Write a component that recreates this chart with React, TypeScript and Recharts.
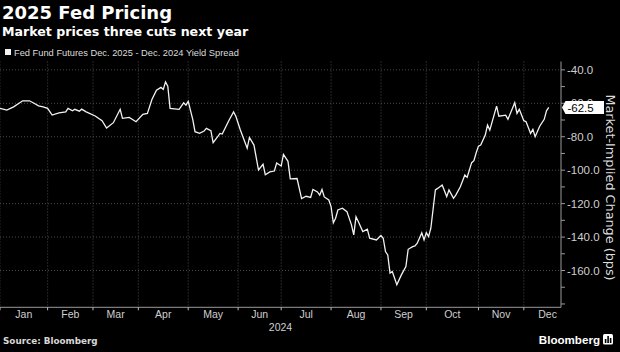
import React from 'react';
import { LineChart, Line, XAxis, YAxis, CartesianGrid, ReferenceLine } from 'recharts';

// Trading-day index in 2024 (0 = first trading day of January)
const tradingDay = [
  0, 3, 6, 10, 13, 15, 17, 19, 21, 23, 26, 29, 30, 32, 33, 35, 36, 38, 42, 45,
  47, 50, 53, 54, 57, 60, 63, 65, 67, 69, 71, 72, 73, 74, 75, 79, 81, 82, 83, 85,
  86, 88, 90, 91, 93, 94, 96, 97, 98, 101, 103, 104, 106, 109, 110, 112, 114, 116, 117, 119,
  121, 122, 124, 125, 127, 128, 131, 133, 135, 137, 138, 140, 141, 142, 143, 145, 146, 147, 148, 149,
  151, 153, 155, 156, 157, 158, 160, 162, 163, 166, 168, 169, 170, 171, 172, 173, 175, 177, 179, 180,
  182, 183, 184, 186, 187, 188, 189, 190, 192, 193, 195, 197, 198, 200, 201, 203, 205, 206, 208, 209,
  210, 211, 212, 214, 215, 216, 219, 220, 223, 224, 227, 228, 229, 231, 232, 234, 235, 236, 238, 240,
  241, 242,
];

// Fed Fund Futures Dec. 2025 - Dec. 2024 yield spread (bps)
const spread = [
  -63.0, -64.1, -62.1, -58.5, -58.5, -60.0, -61.5, -62.1, -63.0, -67.0, -65.7, -65.1, -63.0, -64.5, -63.6, -64.7, -63.5, -65.1, -67.6, -70.4,
  -74.8, -71.6, -63.6, -69.0, -68.4, -71.0, -66.6, -66.0, -57.7, -52.1, -50.5, -51.7, -47.2, -49.7, -63.0, -63.6, -59.7, -61.1, -58.9, -69.6,
  -77.0, -78.0, -76.6, -75.0, -76.4, -83.6, -80.0, -78.0, -78.4, -70.1, -65.1, -67.7, -76.0, -86.9, -80.4, -85.0, -99.9, -96.5, -102.7, -101.0,
  -100.5, -95.7, -97.5, -90.6, -94.7, -105.2, -105.0, -117.0, -115.6, -116.3, -111.5, -113.0, -114.9, -111.5, -116.0, -117.8, -121.8, -131.5, -128.7, -123.8,
  -122.7, -124.8, -132.7, -138.7, -127.9, -130.7, -136.7, -135.3, -140.7, -141.7, -139.1, -140.7, -148.7, -150.7, -161.5, -160.6, -168.5, -162.6, -157.6, -147.3,
  -145.7, -145.3, -143.7, -137.5, -141.7, -137.3, -139.7, -134.7, -111.8, -110.9, -108.9, -115.8, -111.8, -116.8, -114.9, -109.9, -102.9, -104.3, -95.5, -94.3,
  -89.6, -85.6, -85.0, -79.0, -73.0, -76.0, -61.7, -67.7, -67.1, -69.6, -59.7, -66.0, -63.6, -70.4, -71.0, -78.0, -75.6, -80.0, -73.7, -69.6,
  -64.5, -62.5,
];

const monthStarts = [0, 21, 41, 61, 83, 105, 124, 146, 168, 188, 211, 231];
const monthMids = [10.5, 31, 51, 72, 94, 114.5, 135, 157, 178, 199.5, 221, 241.5];
const monthNames = ['Jan', 'Feb', 'Mar', 'Apr', 'May', 'Jun', 'Jul', 'Aug', 'Sep', 'Oct', 'Nov', 'Dec'];
const yLabelTicks = [-40, -60, -80, -100, -120, -140, -160];
const yAllTicks = [-40, -50, -60, -70, -80, -90, -100, -110, -120, -130, -140, -150, -160, -170, -180];
const yearLabel = '2024';
const title = '2025 Fed Pricing';
const subtitle = 'Market prices three cuts next year';
const legendText = 'Fed Fund Futures Dec. 2025 - Dec. 2024 Yield Spread';
const yTitle = 'Market-Implied Change (bps)';
const sourceText = 'Source: Bloomberg';

const data = tradingDay.map((d, i) => ({ d, v: spread[i] }));
const lastValue = spread[spread.length - 1];
const xTicks = [...monthStarts, ...monthMids].sort((a, b) => a - b);

const SANS = 'Liberation Sans, Arial, sans-serif';
const DEJAVU = 'DejaVu Sans, sans-serif';

const XTick = (props: any) => {
  const { x, y, payload } = props;
  const v = payload.value;
  const mi = monthMids.indexOf(v);
  if (mi >= 0) {
    return (
      <text x={x} y={y + 3} dy="0.71em" textAnchor="middle" fill="#cfcfcf" fontSize={10.5} fontFamily={SANS}>
        {monthNames[mi]}
      </text>
    );
  }
  return <line x1={x} y1={y} x2={x} y2={y + 3} stroke="#bdbdbd" strokeWidth={1} />;
};

const YTick = (props: any) => {
  const { x, y, payload } = props;
  if (!yLabelTicks.includes(payload.value)) return <g />;
  return (
    <text x={x} y={y} dy="0.36em" textAnchor="start" fill="#cfcfcf" fontSize={11.5} fontFamily={SANS}>
      {Number(payload.value).toFixed(1)}
    </text>
  );
};

const PriceTag = (props: any) => {
  const vb = props.viewBox || {};
  const xr = (vb.x || 0) + (vb.width || 0);
  const yc = vb.y || 0;
  return (
    <g>
      <path d={`M${xr + 1},${yc} L${xr + 4.5},${yc - 6.5} H${xr + 43} V${yc + 6.5} H${xr + 4.5} Z`} fill="#ffffff" />
      <text x={xr + 6.5} y={yc} dy="0.36em" fill="#000" fontSize={11.5} fontFamily={SANS}>
        {lastValue.toFixed(1)}
      </text>
    </g>
  );
};

export default function App() {
  return (
    <div style={{ position: 'absolute', left: 0, top: 0, width: 620, height: 352, background: '#000', overflow: 'hidden' }}>
      <LineChart
        width={620}
        height={352}
        data={data}
        margin={{ top: 61.5, right: 0, left: 0, bottom: 0 }}
      >
        <CartesianGrid
          stroke="#4a4a4a"
          strokeDasharray="1 2"
          verticalValues={monthStarts}
          horizontalValues={yLabelTicks}
        />
        <XAxis
          dataKey="d"
          type="number"
          domain={[0, 247.4]}
          allowDataOverflow
          ticks={xTicks}
          interval={0}
          tick={XTick}
          tickLine={false}
          tickSize={0}
          tickMargin={0}
          axisLine={{ stroke: '#9a9a9a' }}
          height={44.7}
          label={{ value: yearLabel, position: 'insideBottom', offset: 21.3, fill: '#cfcfcf', fontSize: 10.5, fontFamily: SANS }}
        />
        <YAxis
          orientation="right"
          type="number"
          domain={[-182, -35]}
          allowDataOverflow
          ticks={yAllTicks}
          interval={0}
          tick={YTick}
          tickSize={4}
          tickMargin={2}
          tickLine={{ stroke: '#9a9a9a' }}
          axisLine={{ stroke: '#9a9a9a' }}
          width={59}
        />
        <Line
          type="linear"
          dataKey="v"
          stroke="#f2f2f2"
          strokeWidth={1.3}
          dot={false}
          activeDot={false}
          isAnimationActive={false}
        />
        <ReferenceLine
          y={lastValue}
          stroke="none"
          ifOverflow="visible"
          zIndex={2000}
          label={PriceTag}
        />
      </LineChart>
      <svg width={620} height={352} style={{ position: 'absolute', left: 0, top: 0, pointerEvents: 'none' }}>
        <text x={2} y={18.5} fill="#ffffff" fontSize={18} fontWeight="bold" fontFamily={DEJAVU}>{title}</text>
        <text x={2} y={35.5} fill="#ffffff" fontSize={12.6} fontWeight="bold" fontFamily={DEJAVU}>{subtitle}</text>
        <rect x={5} y={49} width={6} height={6} fill="#f2f2f2" />
        <text x={14} y={55.5} fill="#dcdcdc" fontSize={9.3} fontFamily={SANS}>{legendText}</text>
        <text
          transform="translate(605.5,187.5) rotate(90)"
          textAnchor="middle"
          fill="#dcdcdc"
          fontSize={12.8}
          fontFamily={DEJAVU}
        >
          {yTitle}
        </text>
        <text x={3} y={344} fill="#d8d8d8" fontSize={8.8} fontWeight="bold" fontFamily={DEJAVU}>{sourceText}</text>
        <text x={600} y={344} textAnchor="end" fill="#ffffff" fontSize={11.6} fontWeight="bold" fontFamily={SANS}>Bloomberg</text>
        <rect x={603} y={334} width={10} height={10.5} rx={1.5} fill="#ffffff" />
        <rect x={604.8} y={339} width={1.6} height={4} fill="#000" />
        <rect x={607.3} y={336} width={1.6} height={7} fill="#000" />
        <rect x={609.8} y={338} width={1.6} height={5} fill="#000" />
      </svg>
    </div>
  );
}
